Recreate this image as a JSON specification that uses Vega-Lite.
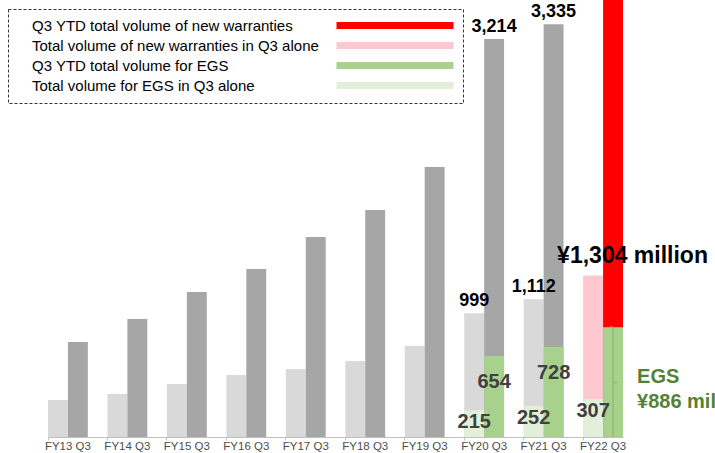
{
  "$schema": "https://vega.github.io/schema/vega-lite/v6.json",
  "width": 575,
  "height": 437,
  "autosize": {"type": "none"},
  "padding": {"left": 48, "top": 0, "right": 92, "bottom": 16},
  "background": "white",
  "config": {"view": {"stroke": null}, "font": "Liberation Sans"},
  "datasets": {
    "bars": [
      {"cat": "FY13 Q3", "period": "Q3", "value": 299, "series": "Gray Q3 alone", "layer": "total"},
      {"cat": "FY13 Q3", "period": "YTD", "value": 767, "series": "Gray Q3 YTD", "layer": "total"},
      {"cat": "FY14 Q3", "period": "Q3", "value": 347, "series": "Gray Q3 alone", "layer": "total"},
      {"cat": "FY14 Q3", "period": "YTD", "value": 953, "series": "Gray Q3 YTD", "layer": "total"},
      {"cat": "FY15 Q3", "period": "Q3", "value": 428, "series": "Gray Q3 alone", "layer": "total"},
      {"cat": "FY15 Q3", "period": "YTD", "value": 1171, "series": "Gray Q3 YTD", "layer": "total"},
      {"cat": "FY16 Q3", "period": "Q3", "value": 501, "series": "Gray Q3 alone", "layer": "total"},
      {"cat": "FY16 Q3", "period": "YTD", "value": 1357, "series": "Gray Q3 YTD", "layer": "total"},
      {"cat": "FY17 Q3", "period": "Q3", "value": 549, "series": "Gray Q3 alone", "layer": "total"},
      {"cat": "FY17 Q3", "period": "YTD", "value": 1615, "series": "Gray Q3 YTD", "layer": "total"},
      {"cat": "FY18 Q3", "period": "Q3", "value": 614, "series": "Gray Q3 alone", "layer": "total"},
      {"cat": "FY18 Q3", "period": "YTD", "value": 1833, "series": "Gray Q3 YTD", "layer": "total"},
      {"cat": "FY19 Q3", "period": "Q3", "value": 735, "series": "Gray Q3 alone", "layer": "total"},
      {"cat": "FY19 Q3", "period": "YTD", "value": 2180, "series": "Gray Q3 YTD", "layer": "total"},
      {"cat": "FY20 Q3", "period": "Q3", "value": 999, "series": "Gray Q3 alone", "layer": "total"},
      {"cat": "FY20 Q3", "period": "YTD", "value": 3214, "series": "Gray Q3 YTD", "layer": "total"},
      {"cat": "FY21 Q3", "period": "Q3", "value": 1112, "series": "Gray Q3 alone", "layer": "total"},
      {"cat": "FY21 Q3", "period": "YTD", "value": 3335, "series": "Gray Q3 YTD", "layer": "total"},
      {"cat": "FY22 Q3", "period": "Q3", "value": 1304, "series": "Total volume of new warranties in Q3 alone", "layer": "total"},
      {"cat": "FY22 Q3", "period": "YTD", "value": 3900, "series": "Q3 YTD total volume of new warranties", "layer": "total"},
      {"cat": "FY20 Q3", "period": "Q3", "value": 215, "series": "Total volume for EGS in Q3 alone", "layer": "egs"},
      {"cat": "FY20 Q3", "period": "YTD", "value": 654, "series": "Q3 YTD total volume for EGS", "layer": "egs"},
      {"cat": "FY21 Q3", "period": "Q3", "value": 252, "series": "Total volume for EGS in Q3 alone", "layer": "egs"},
      {"cat": "FY21 Q3", "period": "YTD", "value": 728, "series": "Q3 YTD total volume for EGS", "layer": "egs"},
      {"cat": "FY22 Q3", "period": "Q3", "value": 307, "series": "Total volume for EGS in Q3 alone", "layer": "egs"},
      {"cat": "FY22 Q3", "period": "YTD", "value": 886, "series": "Q3 YTD total volume for EGS", "layer": "egs"}
    ],
    "topLabels": [
      {"cat": "FY20 Q3", "period": "YTD", "value": 3214},
      {"cat": "FY21 Q3", "period": "YTD", "value": 3335},
      {"cat": "FY20 Q3", "period": "Q3", "value": 999},
      {"cat": "FY21 Q3", "period": "Q3", "value": 1112}
    ],
    "egsYtdLabels": [
      {"cat": "FY20 Q3", "period": "YTD", "value": 654},
      {"cat": "FY21 Q3", "period": "YTD", "value": 728}
    ],
    "egsQ3Labels": [
      {"cat": "FY20 Q3", "period": "Q3", "value": 215},
      {"cat": "FY21 Q3", "period": "Q3", "value": 252},
      {"cat": "FY22 Q3", "period": "Q3", "value": 307}
    ],
    "bigLabel": [
      {"cat": "FY22 Q3", "period": "Q3", "value": 1304, "label": "¥1,304 million"}
    ],
    "egsNote": [
      {"cat": "FY22 Q3", "period": "YTD", "value": 886, "label": "EGS\n¥886 million"}
    ]
  },
  "encoding": {
    "x": {
      "field": "cat",
      "type": "nominal",
      "scale": {
        "domain": ["FY13 Q3", "FY14 Q3", "FY15 Q3", "FY16 Q3", "FY17 Q3", "FY18 Q3", "FY19 Q3", "FY20 Q3", "FY21 Q3", "FY22 Q3"],
        "paddingInner": 0.33,
        "paddingOuter": 0
      },
      "axis": {
        "title": null,
        "labelAngle": 0,
        "labelFont": "Liberation Sans",
        "labelFontSize": 11.5,
        "labelColor": "#4d4d4d",
        "labelPadding": 0,
        "labelDx": 3,
        "domainColor": "#bfbfbf",
        "tickColor": "#bfbfbf",
        "tickSize": 3,
        "bandPosition": 0
      }
    },
    "xOffset": {
      "field": "period",
      "type": "nominal",
      "scale": {"domain": ["Q3", "YTD"], "paddingInner": 0, "paddingOuter": 0}
    },
    "y": {
      "field": "value",
      "type": "quantitative",
      "scale": {"domain": [0, 3530], "nice": false, "zero": true},
      "axis": null
    }
  },
  "layer": [
    {
      "data": {"name": "bars"},
      "transform": [{"filter": "datum.layer === 'total'"}],
      "mark": {"type": "bar", "clip": true},
      "encoding": {
        "y": {"field": "value", "type": "quantitative", "stack": null},
        "color": {
          "field": "series",
          "type": "nominal",
          "scale": {
            "domain": ["Gray Q3 alone", "Gray Q3 YTD", "Q3 YTD total volume of new warranties", "Total volume of new warranties in Q3 alone", "Q3 YTD total volume for EGS", "Total volume for EGS in Q3 alone"],
            "range": ["#d9d9d9", "#a6a6a6", "#ff0000", "#ffc7ce", "#a9d18e", "#e2f0d9"]
          },
          "legend": {
            "values": ["Q3 YTD total volume of new warranties", "Total volume of new warranties in Q3 alone", "Q3 YTD total volume for EGS", "Total volume for EGS in Q3 alone"],
            "orient": "none",
            "legendX": -40,
            "legendY": 9,
            "title": null,
            "symbolType": "M312,-3.5H429V3.5H312Z",
            "symbolSize": 4,
            "symbolStrokeWidth": 0,
            "labelFont": "Liberation Sans",
            "labelFontSize": 15,
            "labelColor": "#000000",
            "labelLimit": 0,
            "labelOffset": 0,
            "rowPadding": 4,
            "padding": 9,
            "strokeColor": "#333333",
            "fillColor": "white",
            "encode": {"legend": {"update": {"strokeDash": {"value": [3, 2]}}}}
          }
        }
      }
    },
    {
      "data": {"name": "bars"},
      "transform": [{"filter": "datum.layer === 'egs'"}],
      "mark": {"type": "bar"},
      "encoding": {
        "y": {"field": "value", "type": "quantitative", "stack": null},
        "color": {"field": "series", "type": "nominal"}
      }
    },
    {
      "data": {"name": "egsNote"},
      "mark": {"type": "rule", "xOffset": 10, "color": "#8cbf6d", "strokeWidth": 1.5},
      "encoding": {"y2": {"datum": 0}}
    },
    {
      "data": {"name": "egsNote"},
      "mark": {"type": "point", "shape": "M0,0H4", "size": 4, "xOffset": 10, "yOffset": 55, "stroke": "#8cbf6d", "strokeWidth": 1.5, "filled": false, "opacity": 1}
    },
    {
      "data": {"name": "egsNote"},
      "mark": {"type": "point", "shape": "M0,0H-4", "size": 4, "xOffset": 10, "stroke": "#8cbf6d", "strokeWidth": 1.5, "filled": false, "opacity": 1}
    },
    {
      "data": {"name": "topLabels"},
      "mark": {"type": "text", "fontSize": 18, "fontWeight": "bold", "color": "#000000", "baseline": "alphabetic", "align": "center", "dy": -7},
      "encoding": {"text": {"field": "value", "type": "quantitative", "format": ","}}
    },
    {
      "data": {"name": "egsYtdLabels"},
      "mark": {"type": "text", "fontSize": 20, "fontWeight": "bold", "color": "#404040", "baseline": "middle", "align": "center", "dy": 26},
      "encoding": {"text": {"field": "value", "type": "quantitative", "format": ","}}
    },
    {
      "data": {"name": "egsQ3Labels"},
      "mark": {"type": "text", "fontSize": 20, "fontWeight": "bold", "color": "#404040", "baseline": "middle", "align": "center", "dy": 12},
      "encoding": {"text": {"field": "value", "type": "quantitative", "format": ","}}
    },
    {
      "data": {"name": "bigLabel"},
      "mark": {"type": "text", "fontSize": 23, "fontWeight": "bold", "color": "#000000", "baseline": "alphabetic", "align": "left", "dx": -36, "dy": -13},
      "encoding": {"text": {"field": "label", "type": "nominal"}}
    },
    {
      "data": {"name": "egsNote"},
      "mark": {"type": "text", "fontSize": 20, "fontWeight": "bold", "color": "#548235", "baseline": "middle", "align": "left", "dx": 24, "dy": 50, "lineHeight": 25, "lineBreak": "\n"},
      "encoding": {"text": {"field": "label", "type": "nominal"}}
    }
  ]
}
